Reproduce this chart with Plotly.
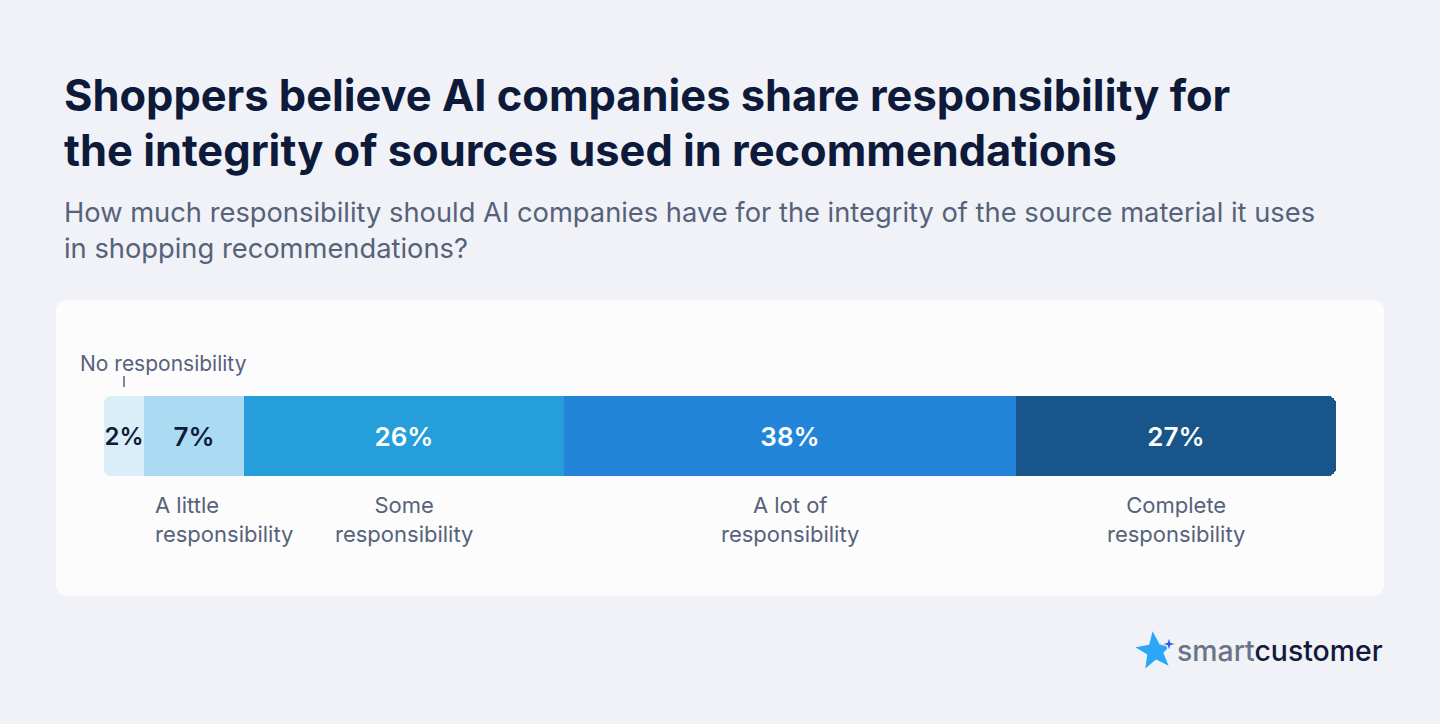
import math
import plotly.graph_objects as go

# Daten
kategorien = ["No responsibility", "A little responsibility", "Some responsibility",
              "A lot of responsibility", "Complete responsibility"]
anteile = [2, 7, 26, 38, 27]
# gezeichnete Segmentlängen in % der Balkenbreite
laengen = [3.25, 8.12, 25.97, 36.69, 25.97]
labels_unten = ["", "A little<br>responsibility", "Some<br>responsibility",
                "A lot of<br>responsibility", "Complete<br>responsibility"]

farben = ["#d9eef9", "#aadbf2", "#259ed9", "#2385d9", "#17558a"]
textfarben = ["#101a3a", "#101a3a", "#ffffff", "#ffffff", "#ffffff"]

titel = ["Shoppers believe AI companies share responsibility for",
         "the integrity of sources used in recommendations"]
untertitel = ["How much responsibility should AI companies have for the integrity of the source material it uses",
              "in shopping recommendations?"]

W, H = 1440, 724
SCHRIFT = "Inter"
GRAU = "#56627a"
NAVY = "#0d1a3a"
HINTERGRUND = "#f0f2f7"
KARTE = "#fcfcfd"


# Pixel -> Papierkoordinaten
def px(x):
    return x / W


def py(y):
    return (H - y) / H


fig = go.Figure()

for i, name in enumerate(kategorien):
    fig.add_trace(go.Bar(
        y=[0],
        x=[laengen[i]],
        orientation="h",
        name=name,
        width=1,
        marker=dict(color=farben[i], line=dict(width=0), cornerradius=8 if i == 0 else None),
        text=[f"{anteile[i]}%"],
        textposition="inside",
        insidetextanchor="middle",
        textangle=0,
        constraintext="none",
        textfont=dict(family=SCHRIFT, size=24 if i == 0 else 26, color=textfarben[i], weight=600),
        hoverinfo="skip",
    ))

# Mittelpunkte der Segmente
mitten = []
start = 0
for l in laengen:
    mitten.append(start + l / 2)
    start += l

annotations = []
# Titel
for j, zeile in enumerate(titel):
    annotations.append(dict(
        x=px(62), y=py(95 + j * 55), xref="paper", yref="paper",
        xanchor="left", yanchor="middle", showarrow=False,
        text=zeile, font=dict(family=SCHRIFT, size=43.4, color=NAVY, weight=700),
    ))
for j, zeile in enumerate(untertitel):
    annotations.append(dict(
        x=px(62), y=py(212 + j * 36), xref="paper", yref="paper",
        xanchor="left", yanchor="middle", showarrow=False,
        text=zeile, font=dict(family=SCHRIFT, size=27.3, color=GRAU),
    ))

# Beschriftung über dem Balken
annotations.append(dict(
    x=px(78), y=py(363), xref="paper", yref="paper",
    xanchor="left", yanchor="middle", showarrow=False,
    text=kategorien[0], font=dict(family=SCHRIFT, size=21, color=GRAU),
))

# Beschriftungen unter dem Balken
for i in range(1, len(kategorien)):
    if i == 1:
        ann = dict(x=4.0, xanchor="left", align="left")
    else:
        ann = dict(x=mitten[i], xanchor="center", align="center")
    ann.update(
        y=py(490), xref="x", yref="paper", yanchor="top", showarrow=False,
        text=labels_unten[i], font=dict(family=SCHRIFT, size=22, color=GRAU),
    )
    annotations.append(ann)

# Logo-Schrift
annotations.append(dict(
    x=px(1175), y=py(650), xref="paper", yref="paper",
    xanchor="left", yanchor="middle", showarrow=False,
    text="<span style='color:#6b7386'>smart</span><span style='color:#111a3a'>customer</span>",
    font=dict(family=SCHRIFT, size=28.4, color=NAVY, weight=500),
))


# Stern fürs Logo
def stern_pfad(cx, cy, r_aussen, r_innen, zacken, drehung=0):
    punkte = []
    for k in range(zacken * 2):
        r = r_aussen if k % 2 == 0 else r_innen
        a = drehung + math.pi * k / zacken
        punkte.append((cx + r * math.sin(a), cy - r * math.cos(a)))
    return "M " + " L ".join(f"{px(x):.5f},{py(y):.5f}" for x, y in punkte) + " Z"


def rund_rechteck(x0, y0, x1, y1, r):
    return (f"M {px(x0 + r)},{py(y0)} L {px(x1 - r)},{py(y0)} "
            f"Q {px(x1)},{py(y0)} {px(x1)},{py(y0 + r)} L {px(x1)},{py(y1 - r)} "
            f"Q {px(x1)},{py(y1)} {px(x1 - r)},{py(y1)} L {px(x0 + r)},{py(y1)} "
            f"Q {px(x0)},{py(y1)} {px(x0)},{py(y1 - r)} L {px(x0)},{py(y0 + r)} "
            f"Q {px(x0)},{py(y0)} {px(x0 + r)},{py(y0)} Z")


# Ecken links am Balken abrunden (mit Kartenfarbe abdecken)
def ecke(x, y, dx, dy):
    return (f"M {px(x)},{py(y)} L {px(x + dx)},{py(y)} "
            f"Q {px(x)},{py(y)} {px(x)},{py(y + dy)} Z")


shapes = [
    # Karte
    dict(type="path", xref="paper", yref="paper", layer="below",
         path=rund_rechteck(56, 300, 1384, 596, 12),
         fillcolor=KARTE, line=dict(width=0)),
    dict(type="path", xref="paper", yref="paper", path=ecke(104, 396, 8, 8),
         fillcolor=KARTE, line=dict(width=0)),
    dict(type="path", xref="paper", yref="paper", path=ecke(104, 476, 8, -8),
         fillcolor=KARTE, line=dict(width=0)),
    # Strich zu "No responsibility"
    dict(type="line", xref="x", yref="paper", x0=mitten[0], x1=mitten[0],
         y0=py(376), y1=py(387), line=dict(color=GRAU, width=1.5)),
    # Logo
    dict(type="path", xref="paper", yref="paper",
         path=stern_pfad(1155, 651, 20, 8.5, 5, -0.12),
         fillcolor="#2aa8f6", line=dict(width=0)),
    dict(type="path", xref="paper", yref="paper",
         path=stern_pfad(1169, 644, 8, 2.5, 4),
         fillcolor="#2b5ce6", line=dict(color=HINTERGRUND, width=1.5)),
]

fig.update_layout(
    width=W,
    height=H,
    margin=dict(l=0, r=0, t=0, b=0),
    paper_bgcolor=HINTERGRUND,
    plot_bgcolor="rgba(0,0,0,0)",
    barmode="stack",
    bargap=0,
    showlegend=False,
    xaxis=dict(domain=[px(104), px(1336)], range=[0, 100], visible=False, fixedrange=True),
    yaxis=dict(domain=[py(476), py(396)], range=[-0.5, 0.5], visible=False, fixedrange=True),
    annotations=annotations,
    shapes=shapes,
)

# Seitenrand des Browsers entfernen
fig.write_html(
    "out.html",
    config={"displayModeBar": False},
    post_script=f"document.body.style.margin='0';document.body.style.background='{HINTERGRUND}';",
)
